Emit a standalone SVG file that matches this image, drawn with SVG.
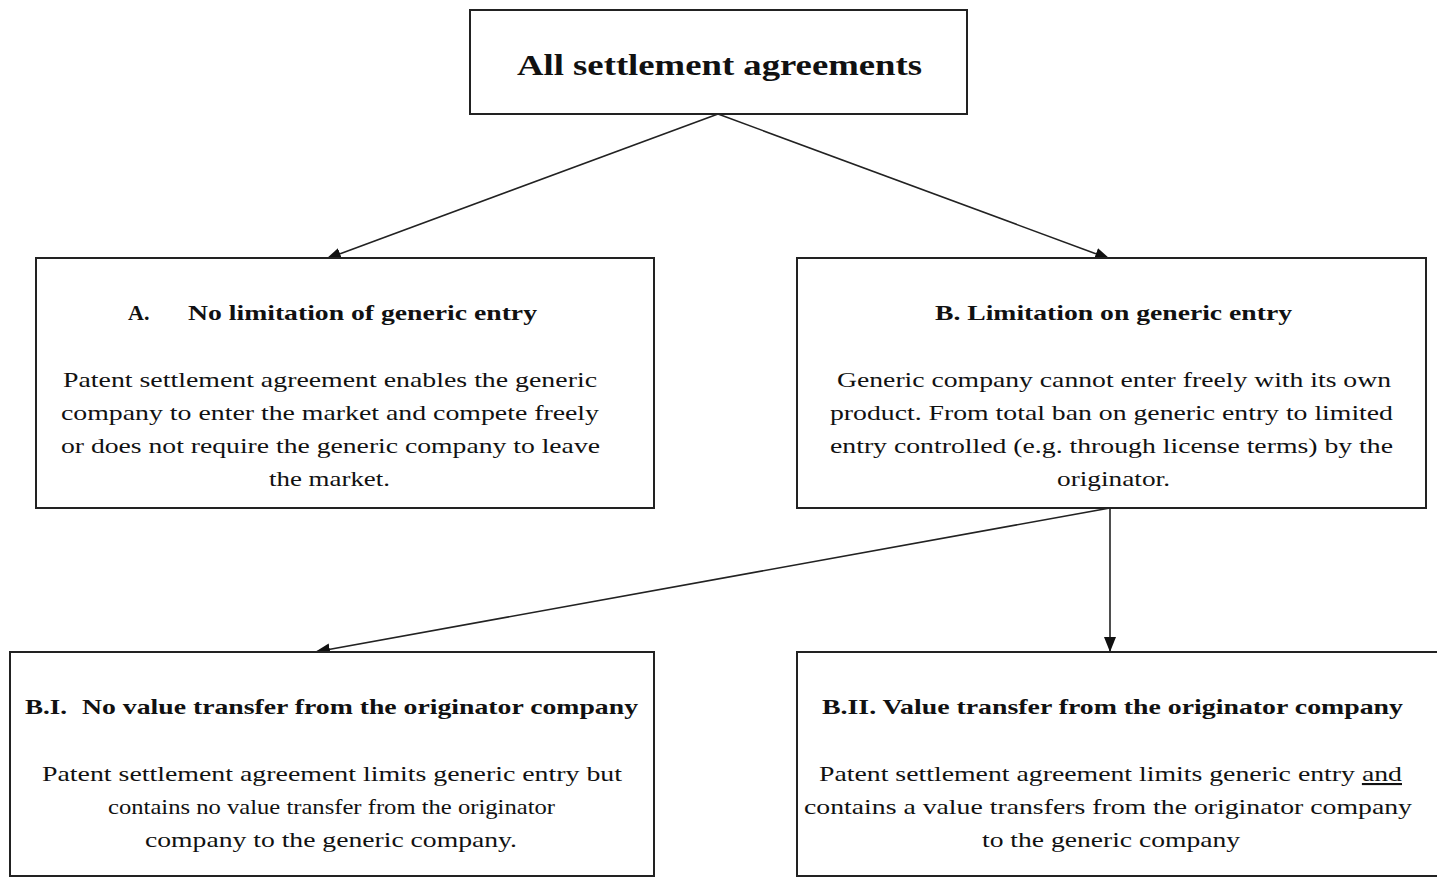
<svg xmlns="http://www.w3.org/2000/svg" width="1437" height="878" viewBox="0 0 1437 878">
<style>
.box{fill:#fff;stroke:#222;stroke-width:2}
.c{stroke:#222;stroke-width:1.6;fill:none}
.f{font-family:'Liberation Serif','Times New Roman','DejaVu Serif',serif}
.b{font-size:21px}
.h{font-size:22px;font-weight:bold}
</style>
<defs>
<marker id="ah" markerUnits="userSpaceOnUse" markerWidth="16" markerHeight="12" refX="15" refY="6" orient="auto">
<path d="M0,0 L15,6 L0,12 Z" fill="#111"/>
</marker>
</defs>
<rect width="1437" height="878" fill="#fff"/>
<g id="connectors">
<line class="c" x1="718" y1="114" x2="326" y2="259" marker-end="url(#ah)"/>
<line class="c" x1="718" y1="114" x2="1110" y2="259" marker-end="url(#ah)"/>
<line class="c" x1="1110" y1="508" x2="315" y2="652" marker-end="url(#ah)"/>
<line class="c" x1="1110" y1="508" x2="1110" y2="652" marker-end="url(#ah)"/>
</g>
<g class="f" fill="#111">
<g id="root">
<rect class="box" x="470" y="10" width="497" height="104"/>
<text font-size="30" font-weight="bold" x="719.5" y="75" text-anchor="middle" textLength="405" lengthAdjust="spacingAndGlyphs">All settlement agreements</text>
</g>
<g id="nodeA">
<rect class="box" x="36" y="258" width="618" height="250"/>
<text class="h" x="128" y="320">A.</text>
<text class="h" x="188" y="320" textLength="349" lengthAdjust="spacingAndGlyphs">No limitation of generic entry</text>
<text class="b" x="330" y="387" text-anchor="middle" textLength="534" lengthAdjust="spacingAndGlyphs">Patent settlement agreement enables the generic</text>
<text class="b" x="330" y="420" text-anchor="middle" textLength="538" lengthAdjust="spacingAndGlyphs">company to enter the market and compete freely</text>
<text class="b" x="330.5" y="453" text-anchor="middle" textLength="539" lengthAdjust="spacingAndGlyphs">or does not require the generic company to leave</text>
<text class="b" x="329.5" y="486" text-anchor="middle" textLength="121" lengthAdjust="spacingAndGlyphs">the market.</text>
</g>
<g id="nodeB">
<rect class="box" x="797" y="258" width="629" height="250"/>
<text class="h" x="1113.5" y="320" text-anchor="middle" textLength="357" lengthAdjust="spacingAndGlyphs">B. Limitation on generic entry</text>
<text class="b" x="1114" y="387" text-anchor="middle" textLength="554" lengthAdjust="spacingAndGlyphs">Generic company cannot enter freely with its own</text>
<text class="b" x="1111.5" y="420" text-anchor="middle" textLength="563" lengthAdjust="spacingAndGlyphs">product. From total ban on generic entry to limited</text>
<text class="b" x="1111.5" y="453" text-anchor="middle" textLength="563" lengthAdjust="spacingAndGlyphs">entry controlled (e.g. through license terms) by the</text>
<text class="b" x="1113.5" y="486" text-anchor="middle" textLength="113" lengthAdjust="spacingAndGlyphs">originator.</text>
</g>
<g id="nodeBI">
<rect class="box" x="10" y="652" width="644" height="224"/>
<text class="h" x="25" y="714" textLength="42" lengthAdjust="spacingAndGlyphs">B.I.</text>
<text class="h" x="82" y="714" textLength="556" lengthAdjust="spacingAndGlyphs">No value transfer from the originator company</text>
<text class="b" x="332" y="781" text-anchor="middle" textLength="580" lengthAdjust="spacingAndGlyphs">Patent settlement agreement limits generic entry but</text>
<text class="b" x="331.5" y="814" text-anchor="middle" textLength="447" lengthAdjust="spacingAndGlyphs">contains no value transfer from the originator</text>
<text class="b" x="331" y="847" text-anchor="middle" textLength="372" lengthAdjust="spacingAndGlyphs">company to the generic company.</text>
</g>
<g id="nodeBII">
<rect class="box" x="797" y="652" width="645" height="224"/>
<text class="h" x="1112.5" y="714" text-anchor="middle" textLength="581" lengthAdjust="spacingAndGlyphs">B.II. Value transfer from the originator company</text>
<text class="b" x="1110.5" y="781" text-anchor="middle" textLength="583" lengthAdjust="spacingAndGlyphs">Patent settlement agreement limits generic entry <tspan text-decoration="underline">and</tspan></text>
<text class="b" x="1108" y="814" text-anchor="middle" textLength="608" lengthAdjust="spacingAndGlyphs">contains a value transfers from the originator company</text>
<text class="b" x="1111" y="847" text-anchor="middle" textLength="258" lengthAdjust="spacingAndGlyphs">to the generic company</text>
</g>
</g>
</svg>
